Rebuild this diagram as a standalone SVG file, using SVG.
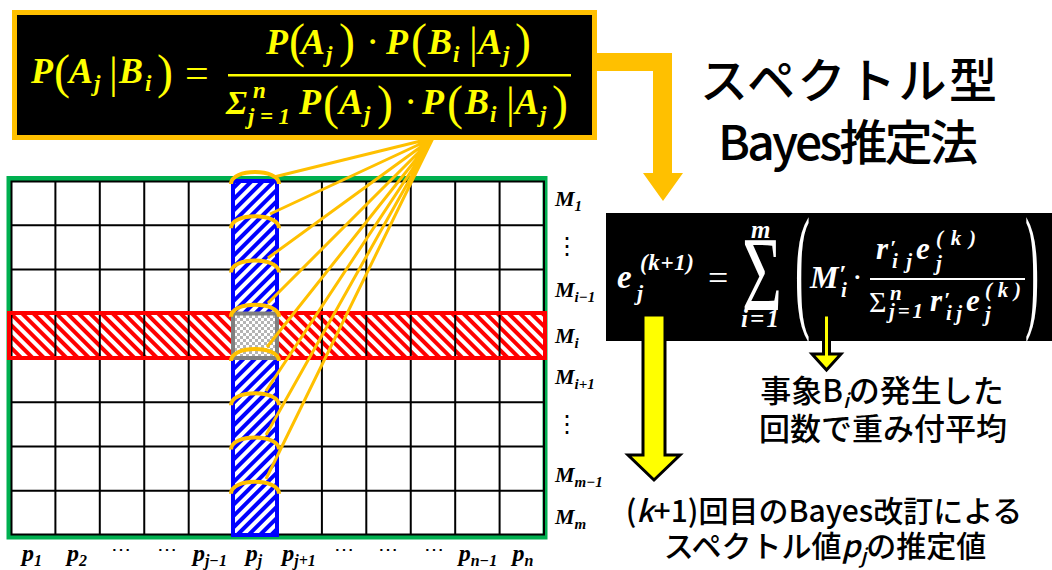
<svg xmlns="http://www.w3.org/2000/svg" width="1052" height="570" viewBox="0 0 1052 570">
<defs>
<style>
.mf{font-family:"Liberation Serif",serif;font-weight:bold;font-style:italic}
.par{font-family:"Liberation Serif",serif;font-weight:normal;font-style:normal}
.yl{fill:#FFFF00}
.wh{fill:#FFFFFF}
.bk{fill:#000000}
.jp{font-family:"Noto Sans CJK JP","Noto Sans",sans-serif;font-weight:500;fill:#000000}
.gl{stroke:#000000;stroke-width:2;fill:none}
.arc{fill:none;stroke:#FFC000;stroke-width:4}
.fan{stroke:#FFC000;stroke-width:3;fill:none}
.ya{fill:#FFFF00;stroke:#000000;stroke-width:3;stroke-linejoin:miter}
</style>
<pattern id="hb" width="8" height="8" patternUnits="userSpaceOnUse" patternTransform="rotate(45)"><rect width="8" height="8" fill="#ffffff"/><rect width="4" height="8" fill="#0000FF"/></pattern>
<pattern id="hr" width="8" height="8" patternUnits="userSpaceOnUse" patternTransform="rotate(-45)"><rect width="8" height="8" fill="#ffffff"/><rect width="4" height="8" fill="#FF0000"/></pattern>
<pattern id="ck" width="6" height="6" patternUnits="userSpaceOnUse"><rect width="6" height="6" fill="#ffffff"/><rect width="3" height="3" fill="#b4b4b4"/><rect x="3" y="3" width="3" height="3" fill="#b4b4b4"/></pattern>
</defs>
<rect width="1052" height="570" fill="#ffffff"/>

<g id="bayes-formula">
<rect x="14.5" y="12.5" width="580" height="125" fill="#000000" stroke="#FFC000" stroke-width="5"/>
<text class="mf yl" font-size="36" x="31" y="83">P</text>
<text class="par yl" font-size="48" x="54" y="88">(</text>
<text class="mf yl" font-size="36" x="69" y="83">A</text>
<text class="mf yl" font-size="23" x="94" y="91">j</text>
<text class="par yl" font-size="44" x="109" y="88">|</text>
<text class="mf yl" font-size="36" x="119" y="83">B</text>
<text class="mf yl" font-size="23" x="145" y="91">i</text>
<text class="par yl" font-size="48" x="157" y="88">)</text>
<text class="par yl" font-size="42" x="185" y="87">=</text>

<text class="mf yl" font-size="36" x="266" y="54">P</text>
<text class="par yl" font-size="48" x="289" y="57">(</text>
<text class="mf yl" font-size="36" x="301" y="54">A</text>
<text class="mf yl" font-size="23" x="326" y="62">j</text>
<text class="par yl" font-size="48" x="339" y="57">)</text>
<text class="par yl" font-size="40" x="366" y="55">·</text>
<text class="mf yl" font-size="36" x="386" y="54">P</text>
<text class="par yl" font-size="48" x="411" y="57">(</text>
<text class="mf yl" font-size="36" x="428" y="54">B</text>
<text class="mf yl" font-size="23" x="453" y="62">i</text>
<text class="par yl" font-size="44" x="469" y="58">|</text>
<text class="mf yl" font-size="36" x="478" y="54">A</text>
<text class="mf yl" font-size="23" x="503" y="62">j</text>
<text class="par yl" font-size="48" x="515" y="57">)</text>

<rect x="228" y="74" width="343" height="2.5" fill="#FFFF00"/>

<text class="mf yl" font-size="34" x="226" y="114">Σ</text>
<text class="mf yl" font-size="23" x="253" y="98">n</text>
<text class="mf yl" font-size="23" x="248" y="124" textLength="42" lengthAdjust="spacing">j=1</text>
<text class="mf yl" font-size="36" x="299" y="114">P</text>
<text class="par yl" font-size="48" x="323" y="119">(</text>
<text class="mf yl" font-size="36" x="339" y="114">A</text>
<text class="mf yl" font-size="23" x="364" y="122">j</text>
<text class="par yl" font-size="48" x="377" y="119">)</text>
<text class="par yl" font-size="40" x="404" y="115">·</text>
<text class="mf yl" font-size="36" x="422" y="114">P</text>
<text class="par yl" font-size="48" x="447" y="119">(</text>
<text class="mf yl" font-size="36" x="465" y="114">B</text>
<text class="mf yl" font-size="23" x="490" y="122">i</text>
<text class="par yl" font-size="44" x="506" y="118">|</text>
<text class="mf yl" font-size="36" x="515" y="114">A</text>
<text class="mf yl" font-size="23" x="540" y="122">j</text>
<text class="par yl" font-size="48" x="552" y="119">)</text>
</g>

<g id="title">
<text class="jp" font-size="48" x="700" y="98" textLength="297" lengthAdjust="spacing">スペクトル型</text>
<text class="jp" font-size="48" x="718" y="160" textLength="260" lengthAdjust="spacing">Bayes推定法</text>
</g>

<g id="update-formula">
<rect x="606" y="213" width="446" height="128" fill="#000000"/>
<text class="mf wh" font-size="33" x="617" y="288">e</text>
<text class="mf wh" font-size="23" x="640" y="270" textLength="54" lengthAdjust="spacing">(k+1)</text>
<text class="mf wh" font-size="22" x="637" y="300">j</text>
<text class="par wh" font-size="36" x="708" y="290">=</text>
<text class="par wh" font-size="105" x="742" y="310" textLength="40" lengthAdjust="spacingAndGlyphs">Σ</text>
<text class="mf wh" font-size="25" x="751" y="238">m</text>
<text class="mf wh" font-size="25" x="741" y="327" textLength="38" lengthAdjust="spacing">i=1</text>
<text class="par wh" font-size="137" x="795" y="313" textLength="15" lengthAdjust="spacingAndGlyphs">(</text>
<text class="par wh" font-size="137" x="1025" y="313" textLength="14" lengthAdjust="spacingAndGlyphs">)</text>
<text class="mf wh" font-size="32" x="810" y="288">M</text>
<text class="mf wh" font-size="26" x="839" y="283">′</text>
<text class="mf wh" font-size="21" x="841" y="297">i</text>
<text class="par wh" font-size="32" x="852" y="288">·</text>
<rect x="870" y="278" width="155" height="2" fill="#ffffff"/>
<text class="mf wh" font-size="31" x="876" y="259">r</text>
<text class="mf wh" font-size="22" x="890" y="255">′</text>
<text class="mf wh" font-size="21" x="892" y="268" textLength="20" lengthAdjust="spacing">ij</text>
<text class="mf wh" font-size="31" x="916" y="259">e</text>
<text class="mf wh" font-size="21" x="936" y="245" textLength="40" lengthAdjust="spacing">(k)</text>
<text class="mf wh" font-size="21" x="936" y="270">j</text>
<text class="par wh" font-size="30" x="869" y="312">Σ</text>
<text class="mf wh" font-size="21" x="890" y="300">n</text>
<text class="mf wh" font-size="21" x="889" y="318" textLength="34" lengthAdjust="spacing">j=1</text>
<text class="mf wh" font-size="31" x="930" y="311">r</text>
<text class="mf wh" font-size="22" x="944" y="307">′</text>
<text class="mf wh" font-size="21" x="946" y="320" textLength="16" lengthAdjust="spacing">ij</text>
<text class="mf wh" font-size="31" x="966" y="311">e</text>
<text class="mf wh" font-size="21" x="985" y="297" textLength="36" lengthAdjust="spacing">(k)</text>
<text class="mf wh" font-size="21" x="985" y="321">j</text>
</g>

<g id="matrix">
<rect x="9" y="178.5" width="536" height="358.5" fill="#ffffff" stroke="#00B050" stroke-width="5"/>
<rect x="9" y="313" width="536" height="45" fill="url(#hr)"/>
<path class="gl" d="M55.4,181V535M99.8,181V535M144.25,181V535M188.7,181V535M233.1,181V535M277.5,181V535M321.9,181V535M366.3,181V535M410.75,181V535M455.2,181V535M499.6,181V535M11,225.25H544M11,269.5H544M11,313.75H544M11,358H544M11,402.25H544M11,446.5H544M11,490.75H544"/>
<rect x="11.5" y="181.5" width="532.5" height="353" fill="none" stroke="#000000" stroke-width="2"/>
<rect x="9" y="313" width="536" height="45" fill="none" stroke="#FF0000" stroke-width="4"/>
<rect x="233" y="181" width="44" height="354" fill="url(#hb)" stroke="#0000FF" stroke-width="4"/>
<rect x="233" y="313.5" width="44" height="44.5" fill="url(#ck)" stroke="#808080" stroke-width="4"/>
<path class="arc" d="M231,184 C231,168 279,168 279,184"/>
<path class="arc" d="M231,228.25 C231,212.25 279,212.25 279,228.25"/>
<path class="arc" d="M231,272.5 C231,256.5 279,256.5 279,272.5"/>
<path class="arc" d="M231,316.75 C231,300.75 279,300.75 279,316.75"/>
<path class="arc" d="M231,361 C231,345 279,345 279,361"/>
<path class="arc" d="M231,405.25 C231,389.25 279,389.25 279,405.25"/>
<path class="arc" d="M231,449.5 C231,433.5 279,433.5 279,449.5"/>
<path class="arc" d="M231,493.75 C231,477.75 279,477.75 279,493.75"/>
</g>

<g id="row-labels" class="mf bk">
<text font-size="22" x="555" y="206">M<tspan font-size="15" dy="5">1</tspan></text>
<text font-size="24" x="567" y="254" text-anchor="middle" style="font-family:'DejaVu Serif',serif;font-style:normal;font-weight:normal">⋮</text>
<text font-size="22" x="555" y="297">M<tspan font-size="15" dy="5">i−1</tspan></text>
<text font-size="22" x="555" y="343">M<tspan font-size="15" dy="5">i</tspan></text>
<text font-size="22" x="555" y="384">M<tspan font-size="15" dy="5">i+1</tspan></text>
<text font-size="24" x="567" y="432" text-anchor="middle" style="font-family:'DejaVu Serif',serif;font-style:normal;font-weight:normal">⋮</text>
<text font-size="22" x="555" y="482">M<tspan font-size="15" dy="5">m−1</tspan></text>
<text font-size="22" x="555" y="524">M<tspan font-size="15" dy="5">m</tspan></text>
</g>

<g id="col-labels" class="mf bk" font-size="24" text-anchor="middle">
<text x="32" y="561">p<tspan font-size="16" dy="5">1</tspan></text>
<text x="77" y="561">p<tspan font-size="16" dy="5">2</tspan></text>
<text x="121" y="556" class="par" font-size="20">⋯</text>
<text x="167" y="556" class="par" font-size="20">⋯</text>
<text x="210" y="561">p<tspan font-size="16" dy="5">j−1</tspan></text>
<text x="254" y="561">p<tspan font-size="16" dy="5">j</tspan></text>
<text x="299" y="561">p<tspan font-size="16" dy="5">j+1</tspan></text>
<text x="344" y="556" class="par" font-size="20">⋯</text>
<text x="388" y="556" class="par" font-size="20">⋯</text>
<text x="434" y="556" class="par" font-size="20">⋯</text>
<text x="478" y="561">p<tspan font-size="16" dy="5">n−1</tspan></text>
<text x="523" y="561">p<tspan font-size="16" dy="5">n</tspan></text>
</g>

<g id="connectors">
<path class="fan" d="M433,138L274,177M433,138L270,214M433,138L268,258M433,138L268,303M433,138L267,347M433,138L266,391M433,138L266,435M433,138L266,479"/>
<path d="M596,53H672V173H683L663,201L643,173H653V71H596Z" fill="#FFC000"/>
<path class="ya" d="M643,315H665V455H680L654,480L628,455H643Z"/>
<path class="ya" stroke-width="2.5" d="M823.5,315H829.5V354H841L826.5,370L812,354H823.5Z"/>
</g>

<g id="notes">
<text class="jp" font-size="31" x="882" y="402" text-anchor="middle">事象B<tspan font-size="20" font-style="italic" dy="6">i</tspan><tspan dy="-6">の発生した</tspan></text>
<text class="jp" font-size="31" x="883" y="440" text-anchor="middle">回数で重み付平均</text>
<text class="jp" font-size="30" x="824" y="522" text-anchor="middle">(<tspan font-style="italic">k</tspan>+1)回目のBayes改訂による</text>
<text class="jp" font-size="30" x="825" y="557" text-anchor="middle">スペクトル値<tspan font-style="italic">p</tspan><tspan font-style="italic" font-size="20" dy="6">j</tspan><tspan dy="-6">の推定値</tspan></text>
</g>
</svg>
